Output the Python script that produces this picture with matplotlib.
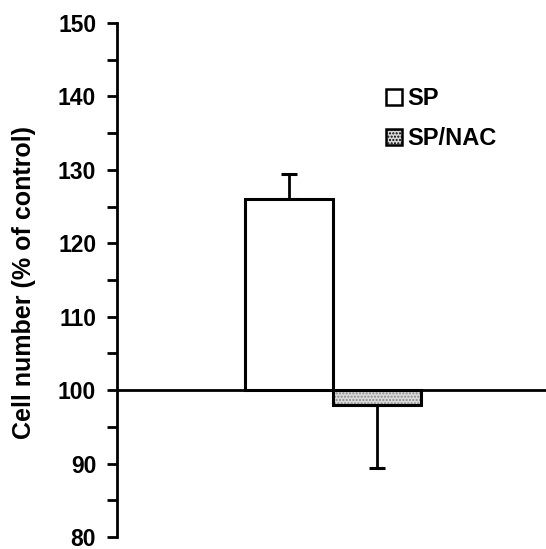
import matplotlib.pyplot as plt
from matplotlib.patches import Patch

# data
groups = ["SP", "SP/NAC"]
values = [126.0, 98.0]
err_up = [3.4, 0.0]
err_down = [0.0, 8.6]
baseline = 100
yticks = [80, 90, 100, 110, 120, 130, 140, 150]

plt.rcParams["font.family"] = ["Liberation Sans", "DejaVu Sans"]
plt.rcParams["font.weight"] = "bold"

fig = plt.figure(figsize=(5.46, 5.49), dpi=100)
ax = fig.add_axes([117 / 546, 12 / 549, 429 / 546, 514 / 549])

x = list(range(len(groups)))
heights = [v - baseline for v in values]
faces = ["white", "#d9d9d9"]
hatches = [None, "....."]

for xi, h, fc, ht in zip(x, heights, faces, hatches):
    ax.bar(xi, h, bottom=baseline, width=1.0, color=fc, hatch=ht,
           edgecolor="#888888", linewidth=0, zorder=2)
    ax.bar(xi, h, bottom=baseline, width=1.0, fill=False,
           edgecolor="black", linewidth=2.2, zorder=3)

ax.errorbar(x, values, yerr=[err_down, err_up], fmt="none", ecolor="black",
            elinewidth=2, capsize=6, capthick=2.2, zorder=1)

ax.axhline(baseline, color="black", linewidth=2, zorder=4)

ax.set_xlim(-1.96, 2.915)
ax.set_ylim(80, 150)
ax.set_yticks(yticks)
ax.set_yticks(range(85, 150, 10), minor=True)
ax.tick_params(axis="y", which="both", direction="out", length=7, width=2,
               labelsize=16.5, pad=8)
ax.set_xticks([])
for s in ["top", "right", "bottom"]:
    ax.spines[s].set_visible(False)
ax.spines["left"].set_linewidth(2)
ax.set_ylabel("Cell number (% of control)", fontsize=18, fontweight="bold")
ax.yaxis.set_label_coords(-0.188, 0.496)

handles = [Patch(facecolor=fc, edgecolor="black", linewidth=1.8, hatch=ht)
           for fc, ht in zip(faces, hatches)]
ax.legend(handles, groups, loc="upper left", bbox_to_anchor=(0.604, 0.893),
          frameon=False, fontsize=17, handlelength=0.7, handleheight=0.7,
          handletextpad=0.2, labelspacing=0.72, borderaxespad=0)

fig.savefig("out.png", dpi=100)
